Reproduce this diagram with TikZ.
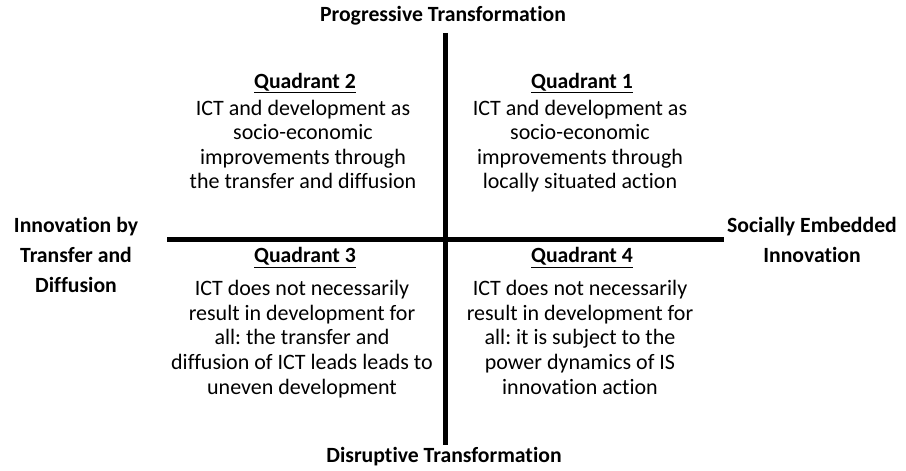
\documentclass[tikz,border=0pt]{standalone}
\usepackage{fontspec}
\setmainfont{Carlito}[Ligatures=NoCommon]
\begin{document}
\frenchspacing
\begin{tikzpicture}[x=1bp,y=-1bp,
  body/.style={anchor=base, inner sep=0pt, font=\fontsize{22bp}{26bp}\selectfont},
  head/.style={anchor=base, inner sep=0pt, font=\fontsize{21.7bp}{26bp}\selectfont\bfseries},
  axis/.style={line width=5bp, line cap=butt, draw=black}]
\useasboundingbox (0,0) rectangle (906,471);

% axes
\coordinate (ytop) at (445,33);
\coordinate (ybot) at (445,445);
\coordinate (xlft) at (167,239.5);
\coordinate (xrgt) at (724,239.5);
\draw[axis] (ytop) -- (ybot);
\draw[axis] (xlft) -- (xrgt);

% axis labels
\node[head] (ptop) at (443,22) {Progressive Transformation};
\node[head] (dbot) at (444,462) {Disruptive Transformation};
\node[head] (l1) at (76,233) {Innovation by};
\node[head] (l2) at (76,262.7) {Transfer and};
\node[head] (l3) at (76,292.4) {Diffusion};
\node[head] (r1) at (812,233) {Socially Embedded};
\node[head] (r2) at (812,262.7) {Innovation};

% quadrant 2
\node[head] (q2t) at (305,88.5) {\underline{Quadrant 2}};
\node[body] (q2a) at (303,115.5) {ICT and development as};
\node[body] (q2b) at (303,139.8) {socio-economic};
\node[body] (q2c) at (303,164.1) {improvements through};
\node[body] (q2d) at (303,188.5) {the transfer and diffusion};

% quadrant 1
\node[head] (q1t) at (582,88.5) {\underline{Quadrant 1}};
\node[body] (q1a) at (580,115.5) {ICT and development as};
\node[body] (q1b) at (580,139.8) {socio-economic};
\node[body] (q1c) at (580,164.1) {improvements through};
\node[body] (q1d) at (580,188.5) {locally situated action};

% quadrant 3
\node[head] (q3t) at (305,263) {\underline{Quadrant 3}};
\node[body] (q3a) at (302,296) {ICT does not necessarily};
\node[body] (q3b) at (302,320.5) {result in development for};
\node[body] (q3c) at (302,345) {all: the transfer and};
\node[body] (q3d) at (302,369.5) {diffusion of ICT leads leads to};
\node[body] (q3e) at (302,394) {uneven development};

% quadrant 4
\node[head] (q4t) at (582,263) {\underline{Quadrant 4}};
\node[body] (q4a) at (580,296) {ICT does not necessarily};
\node[body] (q4b) at (580,320.5) {result in development for};
\node[body] (q4c) at (580,345) {all: it is subject to the};
\node[body] (q4d) at (580,369.5) {power dynamics of IS};
\node[body] (q4e) at (580,394) {innovation action};
\end{tikzpicture}
\end{document}
